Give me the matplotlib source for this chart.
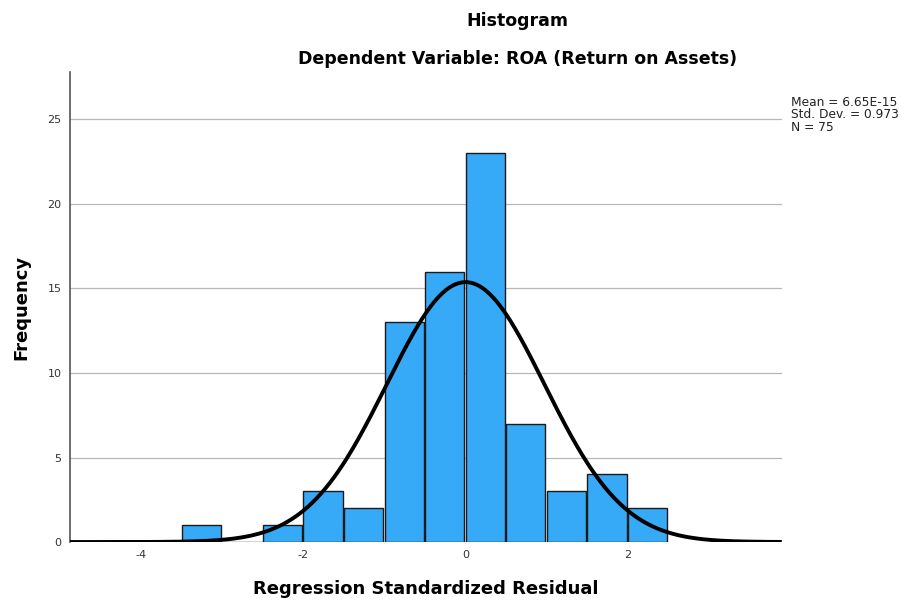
import numpy as np
import matplotlib
matplotlib.use("Agg")
import matplotlib.pyplot as plt

bin_left = [-3.5, -3.0, -2.5, -2.0, -1.5, -1.0, -0.5, 0.0, 0.5, 1.0, 1.5, 2.0]
counts = [1, 0, 1, 3, 2, 13, 16, 23, 7, 3, 4, 2]
bin_width = 0.5
mean = 6.65e-15
std = 0.973
n = 75
yticks = [0, 5, 10, 15, 20, 25]
xticks = [-4, -2, 0, 2]

plt.rcParams['font.family'] = ['DejaVu Sans']
plt.rcParams['axes.unicode_minus'] = False
fig = plt.figure(figsize=(9.08, 6.04), dpi=100)
ax = fig.add_axes([0.077, 0.1026, 0.784, 0.778])

xmin, xmax = -4.88, 3.9
ax.set_xlim(xmin, xmax)
ax.set_ylim(0, 27.8)

for y in yticks[1:]:
    ax.axhline(y, color='#b8b8b8', lw=0.9, zorder=0)

ax.bar(bin_left, counts, width=bin_width * 0.97, align='edge', color='#36a9f7',
       edgecolor='#1a1a1a', linewidth=1.0, zorder=2)

xs = np.linspace(xmin, xmax, 500)
pdf = n * bin_width / (std * np.sqrt(2 * np.pi)) * np.exp(-0.5 * ((xs - mean) / std) ** 2)
ax.plot(xs, pdf, color='black', lw=2.8, zorder=3, solid_capstyle='butt')

for s in ['top', 'right', 'bottom']:
    ax.spines[s].set_visible(False)
ax.spines['left'].set_color('#555555')
ax.spines['left'].set_linewidth(1.2)
ax.set_yticks(yticks)
ax.set_xticks(xticks)
ax.tick_params(axis='both', length=0, labelsize=8, colors='#333333', pad=6)

ax.set_ylabel('Frequency', fontsize=13, fontweight='bold', labelpad=12)
ax.set_xlabel('Regression Standardized Residual', fontsize=13, fontweight='bold', labelpad=14)

fig.text(0.570, 0.966, 'Histogram', ha='center', va='center', fontsize=12.5, fontweight='bold')
fig.text(0.570, 0.903, 'Dependent Variable: ROA (Return on Assets)', ha='center', va='center',
         fontsize=12.5, fontweight='bold')

fig.text(0.871, 0.810, 'Mean = 6.65E-15\nStd. Dev. = 0.973\nN = 75', ha='left', va='center',
         fontsize=8.8, linespacing=0.95, color='#222222')

fig.savefig('out.png', dpi=100)
